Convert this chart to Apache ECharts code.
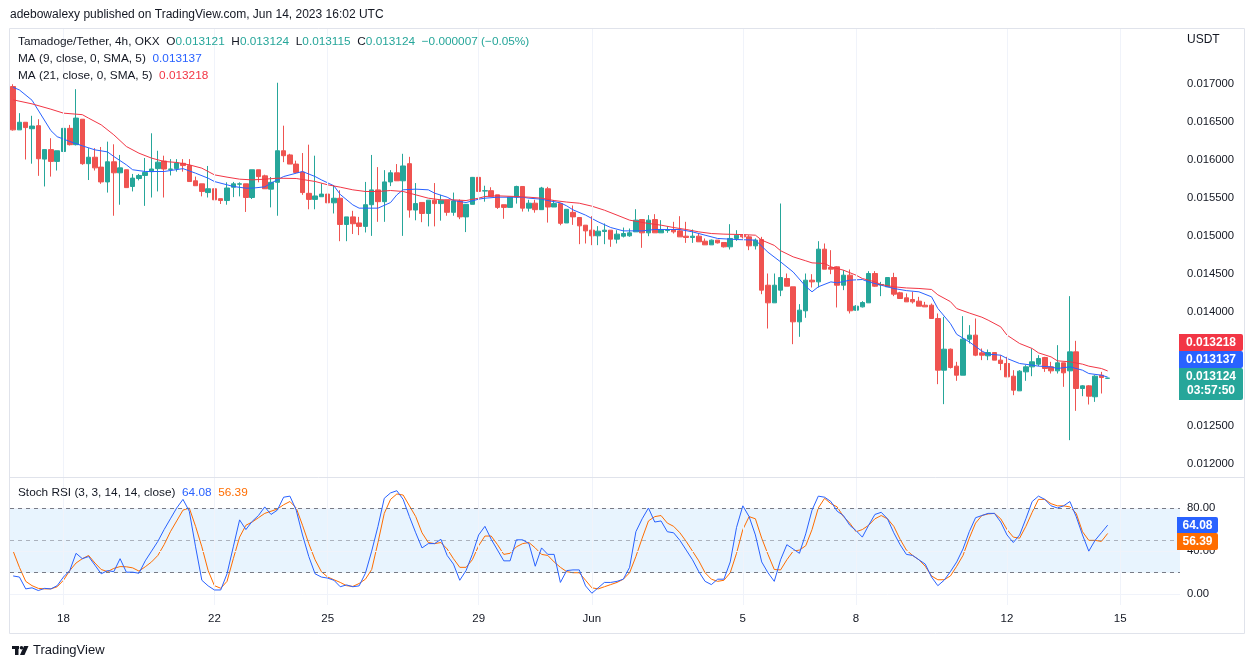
<!DOCTYPE html>
<html><head><meta charset="utf-8">
<script src="https://cdn.jsdelivr.net/npm/echarts@6/dist/echarts.min.js"></script>
<style>html,body{margin:0;padding:0;background:#fff}#c{width:1255px;height:668px}</style>
</head><body><div id="c"></div>
<script>
// ---------------- data ----------------
const symbolName = 'Tamadoge/Tether, 4h, OKX';
const startUTC = [2023, 4, 16, 16];       // first visible 4h candle: 2023-05-16 16:00 UTC
const candleHours = 4;
const emptySlots = 11;                     // empty space right of last candle
const dateTicks = ['2023-05-18','2023-05-22','2023-05-25','2023-05-29','2023-06-01','2023-06-05','2023-06-08','2023-06-12','2023-06-15'];
const dateTickLabels = ['18','22','25','29','Jun','5','8','12','15'];
const priceTicks = [0.0120,0.0125,0.0130,0.0135,0.0140,0.0145,0.0150,0.0155,0.0160,0.0165,0.0170];
const stochTicks = [0, 40, 80];
const stochLevels = [80, 50, 20];
const countdown = '03:57:50';

// [open, close, low, high]
const ohlc = [
[0.016960,0.016390,0.016380,0.016990],[0.016390,0.016490,0.016390,0.016610],[0.016490,0.016420,0.016000,0.016490],[0.016405,0.016440,0.015945,0.016575],
[0.016445,0.016010,0.015785,0.016530],[0.016005,0.016130,0.015645,0.016130],[0.016130,0.015975,0.015775,0.016280],[0.015975,0.016115,0.015855,0.016115],
[0.016105,0.016410,0.016105,0.016455],[0.016410,0.016195,0.016185,0.016455],[0.016195,0.016545,0.016185,0.016925],[0.016530,0.015945,0.015930,0.016530],
[0.015945,0.016030,0.015730,0.016150],[0.016030,0.015890,0.015855,0.016150],[0.015900,0.015705,0.015680,0.016165],[0.015705,0.015970,0.015565,0.016235],
[0.015970,0.015825,0.015260,0.016200],[0.015825,0.015890,0.015405,0.016060],[0.015865,0.015630,0.015630,0.015865],[0.015645,0.015755,0.015580,0.015810],
[0.015750,0.015790,0.015725,0.015810],[0.015790,0.015830,0.015390,0.016020],[0.015840,0.015875,0.015500,0.016345],[0.015880,0.015965,0.015580,0.016115],
[0.015980,0.015875,0.015500,0.016050],[0.015870,0.015875,0.015790,0.016005],[0.015880,0.015955,0.015840,0.016005],[0.015950,0.015920,0.015840,0.016005],
[0.015920,0.015710,0.015710,0.016005],[0.015720,0.015655,0.015655,0.015775],[0.015680,0.015580,0.015515,0.015680],[0.015565,0.015615,0.015500,0.015915],
[0.015615,0.015470,0.015405,0.015615],[0.015485,0.015460,0.015415,0.015485],[0.015460,0.015625,0.015405,0.015700],[0.015635,0.015680,0.015505,0.015705],
[0.015675,0.015680,0.015515,0.015700],[0.015680,0.015500,0.015310,0.015680],[0.015500,0.015865,0.015480,0.015865],[0.015865,0.015775,0.015700,0.015865],
[0.015785,0.015615,0.015615,0.015800],[0.015610,0.015700,0.015370,0.015770],[0.015700,0.016115,0.015260,0.017010],[0.016115,0.016050,0.015965,0.016445],
[0.016060,0.015940,0.015940,0.016075],[0.015940,0.015830,0.015830,0.015985],[0.015835,0.015565,0.015535,0.016085],[0.015555,0.015475,0.015345,0.016195],
[0.015475,0.015520,0.015345,0.016050],[0.015510,0.015545,0.015510,0.015685],[0.015545,0.015430,0.015045,0.015855],[0.015430,0.015490,0.015290,0.015660],
[0.015490,0.015145,0.014925,0.015595],[0.015145,0.015245,0.014925,0.015245],[0.015245,0.015155,0.015020,0.015325],[0.015165,0.015120,0.015005,0.015245],
[0.015120,0.015405,0.015040,0.015705],[0.015405,0.015600,0.014995,0.016060],[0.015600,0.015445,0.015180,0.015900],[0.015445,0.015705,0.015180,0.015860],
[0.015705,0.015825,0.015650,0.015860],[0.015825,0.015720,0.015720,0.015940],[0.015720,0.015915,0.014995,0.016075],[0.015945,0.015335,0.015235,0.016035],
[0.015335,0.015420,0.015200,0.015690],[0.015435,0.015290,0.015175,0.015435],[0.015290,0.015465,0.015120,0.015465],[0.015465,0.015420,0.015120,0.015690],
[0.015420,0.015465,0.015195,0.015535],[0.015465,0.015305,0.015260,0.015465],[0.015305,0.015455,0.015260,0.015565],[0.015455,0.015245,0.015215,0.015475],
[0.015245,0.015410,0.015045,0.015410],[0.015410,0.015765,0.015410,0.015770],[0.015765,0.015580,0.015505,0.015890],[0.015585,0.015590,0.015445,0.015655],
[0.015590,0.015515,0.015515,0.015635],[0.015535,0.015370,0.015350,0.015535],[0.015405,0.015370,0.015220,0.015405],[0.015370,0.015505,0.015370,0.015505],
[0.015505,0.015645,0.015420,0.015655],[0.015645,0.015360,0.015315,0.015645],[0.015360,0.015425,0.015315,0.015470],[0.015425,0.015340,0.015300,0.015470],
[0.015340,0.015625,0.015340,0.015640],[0.015615,0.015375,0.015170,0.015640],[0.015375,0.015420,0.015375,0.015465],[0.015420,0.015160,0.015135,0.015420],
[0.015165,0.015345,0.015165,0.015345],[0.015305,0.015245,0.015140,0.015395],[0.015237,0.015127,0.014886,0.015237],[0.015136,0.015061,0.014895,0.015136],
[0.015070,0.014996,0.014873,0.015254],[0.014996,0.015057,0.014873,0.015123],[0.015053,0.015070,0.014886,0.015158],[0.015070,0.014952,0.014851,0.015070],
[0.014952,0.015018,0.014895,0.015070],[0.014991,0.015026,0.014974,0.015105],[0.014996,0.015035,0.014983,0.015092],[0.015048,0.015202,0.015048,0.015346],
[0.015210,0.015035,0.014838,0.015210],[0.015035,0.015202,0.014991,0.015268],[0.015210,0.015035,0.015035,0.015281],[0.015035,0.015079,0.015035,0.015202],
[0.015065,0.015070,0.015035,0.015123],[0.015079,0.015048,0.015026,0.015180],[0.015061,0.014982,0.014982,0.015254],[0.014991,0.014974,0.014903,0.015180],
[0.014974,0.014991,0.014903,0.015079],[0.014991,0.014917,0.014917,0.015026],[0.014925,0.014877,0.014877,0.014961],[0.014877,0.014939,0.014877,0.014947],
[0.014939,0.014903,0.014895,0.014939],[0.014908,0.014851,0.014842,0.014908],[0.014851,0.014961,0.014816,0.015149],[0.014961,0.015004,0.014930,0.015070],
[0.015004,0.014982,0.014961,0.015018],[0.014982,0.014864,0.014807,0.015004],[0.014864,0.014939,0.014816,0.014961],[0.014947,0.014281,0.014228,0.014982],
[0.014346,0.014114,0.013776,0.014500],[0.014114,0.014346,0.014114,0.014500],[0.014281,0.014447,0.014202,0.015421],[0.014434,0.014333,0.014333,0.014500],
[0.014325,0.013864,0.013570,0.014325],[0.013864,0.014018,0.013667,0.014097],[0.014009,0.014412,0.013917,0.014500],[0.014412,0.014390,0.014316,0.014491],
[0.014390,0.014820,0.014316,0.014925],[0.014820,0.014557,0.014557,0.014895],[0.014579,0.014557,0.014491,0.014807],[0.014588,0.014346,0.014053,0.014596],
[0.014346,0.014478,0.014281,0.014544],[0.014478,0.014009,0.013974,0.014553],[0.014018,0.014070,0.014009,0.014083],[0.014061,0.014118,0.014053,0.014136],
[0.014114,0.014500,0.014114,0.014531],[0.014500,0.014333,0.014325,0.014531],[0.014350,0.014355,0.014202,0.014390],[0.014325,0.014447,0.014325,0.014447],
[0.014447,0.014228,0.014202,0.014509],[0.014246,0.014171,0.014171,0.014259],[0.014180,0.014127,0.014127,0.014237],[0.014158,0.014127,0.014105,0.014259],
[0.014136,0.014070,0.014070,0.014193],[0.014083,0.014061,0.014061,0.014127],[0.014083,0.013908,0.013908,0.014105],[0.013908,0.013228,0.013044,0.013974],
[0.013228,0.013504,0.012781,0.013930],[0.013504,0.013263,0.013250,0.013513],[0.013281,0.013162,0.013088,0.013338],[0.013162,0.013636,0.013162,0.013939],
[0.013636,0.013689,0.013579,0.013820],[0.013689,0.013425,0.013412,0.013908],[0.013456,0.013425,0.013360,0.013513],[0.013417,0.013460,0.013360,0.013500],
[0.013460,0.013360,0.013360,0.013460],[0.013360,0.013316,0.013228,0.013425],[0.013316,0.013140,0.013140,0.013403],[0.013149,0.012965,0.012899,0.013228],
[0.012956,0.013215,0.012956,0.013228],[0.013206,0.013272,0.013088,0.013294],[0.013272,0.013338,0.013149,0.013513],[0.013307,0.013382,0.013281,0.013425],
[0.013395,0.013250,0.013206,0.013403],[0.013272,0.013219,0.013184,0.013338],[0.013219,0.013325,0.013184,0.013557],[0.013325,0.013193,0.013009,0.013325],
[0.013219,0.013469,0.012307,0.014202],[0.013469,0.012987,0.012693,0.013614],[0.012987,0.013022,0.012886,0.013031],[0.013022,0.012886,0.012776,0.013031],
[0.012878,0.013149,0.012811,0.013162],[0.013162,0.013131,0.012921,0.013206],[0.013121,0.013124,0.013115,0.013124]
];

// moving averages: [candle index, value]
const ma9 = [[0,0.016950],[1,0.016915],[3,0.016780],[6,0.016380],[7,0.016300],[9,0.016237],[11,0.016180],[13,0.016127],[15,0.016100],[16,0.016040],[18,0.015930],[19,0.015865],[21,0.015842],[24,0.015842],[27,0.015880],[29,0.015820],[31,0.015754],[32,0.015710],[34,0.015667],[35,0.015645],[37,0.015623],[38,0.015623],[40,0.015640],[41,0.015689],[43,0.015776],[45,0.015820],[46,0.015842],[48,0.015776],[49,0.015732],[51,0.015654],[52,0.015540],[54,0.015403],[55,0.015360],[58,0.015360],[60,0.015434],[61,0.015535],[62,0.015601],[64,0.015610],[66,0.015601],[67,0.015557],[69,0.015504],[70,0.015460],[72,0.015434],[74,0.015478],[75,0.015491],[77,0.015504],[81,0.015504],[82,0.015491],[84,0.015478],[85,0.015460],[87,0.015430],[88,0.015390],[89,0.015338],[91,0.015268],[93,0.015180],[95,0.015105],[97,0.015061],[100,0.015061],[102,0.015079],[106,0.015079],[108,0.015048],[110,0.015004],[112,0.014961],[115,0.014947],[118,0.014939],[120,0.014780],[122,0.014653],[124,0.014520],[126,0.014330],[127,0.014259],[128,0.014325],[130,0.014390],[131,0.014377],[133,0.014412],[135,0.014421],[136,0.014390],[138,0.014346],[140,0.014303],[142,0.014275],[144,0.014259],[146,0.014193],[147,0.014040],[149,0.013842],[150,0.013700],[152,0.013600],[154,0.013480],[155,0.013439],[157,0.013425],[158,0.013382],[160,0.013316],[162,0.013294],[163,0.013281],[165,0.013272],[166,0.013250],[168,0.013272],[170,0.013228],[171,0.013184],[173,0.013162],[174,0.013137]];
const ma21 = [[0,0.016785],[3,0.016732],[6,0.016662],[8,0.016610],[11,0.016590],[12,0.016544],[14,0.016456],[16,0.016325],[18,0.016171],[20,0.016083],[22,0.016018],[24,0.015974],[26,0.015961],[28,0.015930],[30,0.015886],[32,0.015798],[34,0.015768],[36,0.015741],[38,0.015732],[40,0.015741],[42,0.015754],[45,0.015750],[48,0.015711],[50,0.015667],[52,0.015636],[54,0.015601],[56,0.015579],[58,0.015579],[60,0.015592],[62,0.015579],[64,0.015535],[66,0.015491],[68,0.015469],[70,0.015469],[72,0.015460],[74,0.015491],[75,0.015513],[77,0.015522],[80,0.015513],[82,0.015504],[84,0.015491],[86,0.015460],[88,0.015440],[90,0.015425],[92,0.015386],[94,0.015333],[96,0.015268],[98,0.015202],[101,0.015158],[103,0.015136],[105,0.015105],[107,0.015079],[109,0.015048],[111,0.015026],[113,0.015018],[116,0.015012],[118,0.015004],[119,0.014939],[121,0.014870],[122,0.014800],[124,0.014719],[126,0.014667],[127,0.014640],[129,0.014632],[130,0.014588],[132,0.014544],[134,0.014478],[135,0.014434],[137,0.014390],[138,0.014355],[140,0.014325],[142,0.014310],[144,0.014303],[146,0.014290],[147,0.014220],[149,0.014130],[150,0.014039],[152,0.013980],[154,0.013925],[155,0.013886],[157,0.013798],[158,0.013689],[160,0.013579],[162,0.013513],[163,0.013456],[165,0.013403],[166,0.013351],[168,0.013338],[170,0.013307],[171,0.013281],[173,0.013250],[174,0.013218]];

const stochK = [17,16,5,6,3.5,5.5,5,8,16,22, 38,33,35,27,19,22,21,33,20.5,20.5, 19.5,31,40,49,60,70,80,88,77,44,
 13,7.8,4,4,19,44,69,60,67.6,73, 81,74,78,90,91,78,55,35,19,16, 15,13,7,8.7,7,7.8,19.5,40,63,89,
 94,96,88,72,57,43,47,47,51,36, 28,13,22,37,55,63,51,41,31,31, 50.5,50.5,47,26,43,37,37,11,22,22.6,
 22.6,7.8,1,6,11,11,12,14,25,58, 70,80,67,68,58,57,50,41,32,21, 12,9,14,14,30,62,82,72,55,30,
 20,12,32,46,42,38,56,78,91,90, 86,77,73,64,59,53,64,74,76,70, 57,46,37,36,32,28,16,8,13,21,
 30,42,58,71,73,75,75,67,55,48, 55,70,86,91,88,82,80,82,86,72, 55,40,50,57,64.08];
const stochD = [40,25,12,8,5.5,5,5,7,13,22, 29,33,36,29,23,21,24,25.7,25.5,24.5, 21.5,25.5,30,36,46,58,68,78,80,63,
 44,22,8,5.6,12,33,53,64,67,71, 75,77,79,83,86,80,64,47,32,21, 16,13.5,11,8,7.3,10,14,23,48,75,
 88,93,92,82,72,57,48,47,48,42, 33,25,25,32,45,54,54,46,37,38, 44,47,48,43,37,36,30,25,21,20,
 20,13,6,5,7,9,11,14,20,35, 52,68,72,73,66,63,57,49,40,31, 20,14,12,13,20,38,60,72,70,52,
 37,23,22.6,32,40,41,45,60,80,89, 84,81,72,66,58,60,64,70,73,70, 63,51,41,36,32,26,17,13.5,13.5,17,
 26,36,52,66,73,74.5,75,70,60,53, 52,63,76,88,88,84,82,82,81,75, 58,50,50,49,56.39];

// ---------------- chart ----------------
const FONT = '"Liberation Sans", Arial, sans-serif';
const UP = '#26a69a', DOWN = '#ef5350', BLUE = '#2962ff', RED = '#f23645', ORANGE = '#ff6d00', INK = '#131722', GRID = '#f0f3fa';

const categories = [];
const t0 = Date.UTC(startUTC[0], startUTC[1], startUTC[2], startUTC[3]);
for (let i = 0; i < ohlc.length + emptySlots; i++) {
  categories.push(new Date(t0 + i * candleHours * 3600000).toISOString().slice(0, 16).replace('T', ' '));
}
const tickCats = dateTicks.map(d => d + ' 00:00');
const isTick = (idx, val) => tickCats.indexOf(val) >= 0;

// pane layout
const L = 10, W = 1170, T0 = 28, H0 = 449, T1 = 477, H1 = 128;
const PRICE_MAX = 0.0177303, PRICE_MIN = 0.0118224;
const STOCH_MAX = 108.73, STOCH_MIN = -9.92;

const last = ohlc[ohlc.length - 1], prev = ohlc[ohlc.length - 2];
const f6 = v => v.toFixed(6);
const chg = last[1] - prev[1];
const chgTxt = (chg < 0 ? '\u2212' : '+') + Math.abs(chg).toFixed(6) + ' (' + (chg < 0 ? '\u2212' : '+') + Math.abs(chg / prev[1] * 100).toFixed(2) + '%)';
const ma9Last = ma9[ma9.length - 1][1], ma21Last = ma21[ma21.length - 1][1];
const kLast = stochK[stochK.length - 1], dLast = stochD[stochD.length - 1];

const gridLineStyle = {color: GRID, width: 1, type: 'solid'};
const vLines = tickCats.map(c => ({xAxis: c}));

const option = {
  animation: false,
  backgroundColor: '#ffffff',
  textStyle: {fontFamily: FONT},
  grid: [
    {left: L, top: T0, width: W, height: H0},
    {left: L, top: T1, width: W, height: H1}
  ],
  xAxis: [
    {type: 'category', gridIndex: 0, data: categories, boundaryGap: true,
     axisLine: {show: false}, axisTick: {show: false}, axisLabel: {show: false}, splitLine: {show: false}},
    {type: 'category', gridIndex: 1, data: categories, boundaryGap: true,
     axisLine: {show: false}, axisTick: {show: false}, splitLine: {show: false},
     axisLabel: {show: true, interval: isTick, formatter: v => dateTickLabels[tickCats.indexOf(v)] || '',
                 margin: 8, color: INK, fontSize: 11.5, fontFamily: FONT}}
  ],
  yAxis: [
    {type: 'value', gridIndex: 0, position: 'right', min: PRICE_MIN, max: PRICE_MAX,
     axisLine: {show: false}, axisTick: {show: false}, splitLine: {show: false},
     axisLabel: {customValues: priceTicks, formatter: v => v.toFixed(6), margin: 7, color: INK, fontSize: 11.3, fontFamily: FONT}},
    {type: 'value', gridIndex: 1, position: 'right', min: STOCH_MIN, max: STOCH_MAX,
     axisLine: {show: false}, axisTick: {show: false}, splitLine: {show: false},
     axisLabel: {customValues: stochTicks, formatter: v => v.toFixed(2), margin: 7, color: INK, fontSize: 11.3, fontFamily: FONT}}
  ],
  series: [
    {type: 'line', name: 'grid0', xAxisIndex: 0, yAxisIndex: 0, data: [], z: 1, silent: true,
     markLine: {silent: true, symbol: 'none', label: {show: false}, lineStyle: gridLineStyle, animation: false,
                data: priceTicks.map(v => ({yAxis: v})).concat(vLines)}},
    {type: 'line', name: 'grid1', xAxisIndex: 1, yAxisIndex: 1, data: [], z: 1, silent: true,
     markArea: {silent: true, itemStyle: {color: 'rgba(33,150,243,0.1)'}, data: [[{yAxis: stochLevels[2]}, {yAxis: stochLevels[0]}]]},
     markLine: {silent: true, symbol: 'none', label: {show: false}, lineStyle: gridLineStyle, animation: false,
                data: stochTicks.map(v => ({yAxis: v})).concat(vLines)}},
    {type: 'line', name: 'levels', xAxisIndex: 1, yAxisIndex: 1, data: [], z: 2, silent: true,
     markLine: {silent: true, symbol: 'none', label: {show: false}, animation: false,
                data: stochLevels.map((v, i) => ({yAxis: v, lineStyle: {color: i === 1 ? 'rgba(120,123,134,0.55)' : '#787b86', width: 1, type: [4, 4]}}))}},
    {type: 'candlestick', name: 'price', xAxisIndex: 0, yAxisIndex: 0, data: ohlc, z: 3, barWidth: 5,
     itemStyle: {color: UP, color0: DOWN, borderColor: UP, borderColor0: DOWN, borderWidth: 1},
     markLine: {silent: true, symbol: 'none', label: {show: false}, animation: false,
                data: [{yAxis: last[1], lineStyle: {color: UP, width: 1, type: [1, 3]}}]}},
    {type: 'line', name: 'MA9', xAxisIndex: 0, yAxisIndex: 0, data: ma9, z: 4, showSymbol: false, silent: true,
     lineStyle: {color: BLUE, width: 1}},
    {type: 'line', name: 'MA21', xAxisIndex: 0, yAxisIndex: 0, data: ma21, z: 4, showSymbol: false, silent: true,
     lineStyle: {color: RED, width: 1}},
    {type: 'line', name: 'D', xAxisIndex: 1, yAxisIndex: 1, data: stochD, z: 4, showSymbol: false, silent: true,
     lineStyle: {color: ORANGE, width: 1}},
    {type: 'line', name: 'K', xAxisIndex: 1, yAxisIndex: 1, data: stochK, z: 5, showSymbol: false, silent: true,
     lineStyle: {color: BLUE, width: 1}}
  ]
};

const chart = echarts.init(document.getElementById('c'), null, {renderer: 'canvas'});
chart.setOption(option);

const yP = v => chart.convertToPixel({yAxisIndex: 0}, v);
const yS = v => chart.convertToPixel({yAxisIndex: 1}, v);
const TAGX = L + W - 1;

function tag(y, h, color, lines, w, x0) {
  const x = x0 === undefined ? TAGX : x0;
  const els = [{type: 'rect', shape: {x: x, y: y, width: w, height: h, r: [0, 2, 2, 0]}, style: {fill: color}, z: 100}];
  lines.forEach((t, i) => els.push({type: 'text', z: 101, style: {text: t, x: x + w / 2, y: y + 8.5 + i * 14, align: 'center', verticalAlign: 'middle',
      fill: '#ffffff', font: 'bold 12px ' + FONT}}));
  return els;
}

const gTop = Math.round(yP(last[1])) - 10;
const kTop = Math.round(yS(kLast)) - 8;

const LF = '11.8px ' + FONT;
const legendRich = {
  d: {fill: INK, font: LF},
  v: {fill: UP, font: LF},
  b: {fill: BLUE, font: LF},
  r: {fill: RED, font: LF},
  o: {fill: ORANGE, font: LF}
};

const graphics = [
  // chart frame and pane separator
  {type: 'rect', shape: {x: 9.5, y: 28.5, width: 1235, height: 605}, style: {fill: 'none', stroke: '#e0e3eb', lineWidth: 1}, z: 50, silent: true},
  {type: 'line', shape: {x1: 9.5, y1: 477.5, x2: 1244.5, y2: 477.5}, style: {stroke: '#e0e3eb', lineWidth: 1}, z: 50, silent: true},
  // header
  {type: 'text', z: 60, style: {text: 'adebowalexy published on TradingView.com, Jun 14, 2023 16:02 UTC', x: 10, y: 15, verticalAlign: 'middle', fill: INK, font: '12px ' + FONT}},
  {type: 'text', z: 60, style: {x: 18, y: 42, verticalAlign: 'middle', rich: legendRich,
    text: '{d|' + symbolName + '}  {d|O}{v|' + f6(last[0]) + '}  {d|H}{v|' + f6(last[3]) + '}  {d|L}{v|' + f6(last[2]) + '}  {d|C}{v|' + f6(last[1]) + '}  {v|' + chgTxt + '}'}},
  {type: 'text', z: 60, style: {x: 18, y: 59, verticalAlign: 'middle', rich: legendRich, text: '{d|MA (9, close, 0, SMA, 5)}  {b|' + f6(ma9Last) + '}'}},
  {type: 'text', z: 60, style: {x: 18, y: 76, verticalAlign: 'middle', rich: legendRich, text: '{d|MA (21, close, 0, SMA, 5)}  {r|' + f6(ma21Last) + '}'}},
  {type: 'text', z: 60, style: {x: 18, y: 493, verticalAlign: 'middle', rich: legendRich, text: '{d|Stoch RSI (3, 3, 14, 14, close)}  {b|' + kLast.toFixed(2) + '}  {o|' + dLast.toFixed(2) + '}'}},
  {type: 'text', z: 60, style: {text: 'USDT', x: 1187, y: 40, verticalAlign: 'middle', fill: INK, font: '12px ' + FONT}},
  // footer logo
  {type: 'rect', z: 60, shape: {x: 12, y: 646, width: 7, height: 3}, style: {fill: INK}},
  {type: 'rect', z: 60, shape: {x: 15, y: 646, width: 3.5, height: 9}, style: {fill: INK}},
  {type: 'circle', z: 60, shape: {cx: 21.5, cy: 647.8, r: 1.8}, style: {fill: INK}},
  {type: 'polygon', z: 60, shape: {points: [[24, 646], [28.5, 646], [24.5, 655], [20, 655]]}, style: {fill: INK}},
  {type: 'text', z: 60, style: {text: 'TradingView', x: 33, y: 650.5, verticalAlign: 'middle', fill: INK, font: '13px ' + FONT}}
]
.concat(tag(gTop - 34, 17, RED, [f6(ma21Last)], 64))
.concat(tag(gTop - 17, 17, BLUE, [f6(ma9Last)], 64))
.concat(tag(gTop, 32, UP, [f6(last[1]), countdown], 64))
.concat(tag(kTop, 16, BLUE, [kLast.toFixed(2)], 41, TAGX - 2))
.concat(tag(kTop + 16, 17, ORANGE, [dLast.toFixed(2)], 41, TAGX - 2));

chart.setOption({graphic: graphics});
</script>
</body></html>
